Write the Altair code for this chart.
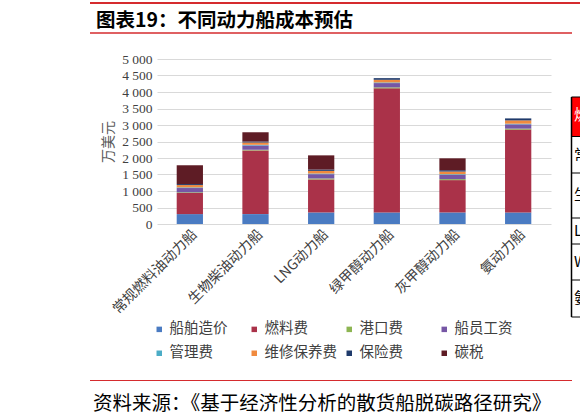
import altair as alt
import pandas as pd

# ---------------- data ----------------
ships = ["常规燃料油动力船", "生物柴油动力船", "LNG动力船", "绿甲醇动力船", "灰甲醇动力船", "氨动力船"]
components = ["船舶造价", "燃料费", "港口费", "船员工资", "管理费", "维修保养费", "保险费", "碳税"]
colors = ["#4A7BC2", "#AA3249", "#8DB552", "#7656A5", "#4BACC6", "#F08A3E", "#1F3A6B", "#5E1C25"]

ship_cost = [300, 300, 350, 350, 350, 350]
fuel_cost = [640, 1930, 1000, 3760, 980, 2510]
port_fee = [20, 20, 30, 30, 30, 30]
crew_wage = [130, 130, 130, 130, 130, 130]
mgmt_fee = [20, 20, 20, 20, 20, 20]
maint_fee = [70, 70, 80, 80, 80, 100]
insurance = [30, 30, 40, 50, 40, 60]
carbon_tax = [570, 280, 430, 0, 360, 0]

y_ticks = [0, 500, 1000, 1500, 2000, 2500, 3000, 3500, 4000, 4500, 5000]

title_text = "图表19：不同动力船成本预估"
source_text = "资料来源：《基于经济性分析的散货船脱碳路径研究》"

series = [ship_cost, fuel_cost, port_fee, crew_wage, mgmt_fee, maint_fee, insurance, carbon_tax]
rows = []
for ci, (comp, vals) in enumerate(zip(components, series)):
    for ship, v in zip(ships, vals):
        rows.append({"ship": ship, "component": comp, "value": v, "idx": ci})
df = pd.DataFrame(rows)

CJK = "Noto Sans CJK SC"
OX, OY = 157, 59  # plot origin on the page

bars = alt.Chart(df).mark_bar().encode(
    x=alt.X("ship:N", sort=ships,
            scale=alt.Scale(paddingInner=0.6, paddingOuter=0.3),
            axis=alt.Axis(title=None, labelAngle=-45, labelAlign="right", labelBaseline="top",
                          labelPadding=3, labelFont=CJK, labelFontSize=14, labelColor="#404040",
                          domain=False, ticks=False, labelLimit=200)),
    y=alt.Y("sum(value):Q", stack="zero",
            scale=alt.Scale(domain=[0, 5000], nice=False),
            axis=alt.Axis(values=y_ticks, labelExpr="replace(format(datum.value, ','), ',', ' ')",
                          grid=True, gridColor="#D9D9D9", gridWidth=1, domain=False, ticks=False,
                          labelFont="Liberation Serif", labelFontSize=13.5, labelColor="#404040",
                          labelPadding=5, title="万美元", titleFont=CJK, titleFontSize=14,
                          titleFontWeight="normal", titleColor="#595959", titlePadding=6)),
    color=alt.Color("component:N", sort=components,
                    scale=alt.Scale(domain=components, range=colors),
                    legend=alt.Legend(orient="none", legendX=-5, legendY=263, direction="horizontal",
                                      columns=4, title=None, symbolType="square", symbolSize=30,
                                      symbolStrokeWidth=0, labelFont=CJK, labelFontSize=14.5,
                                      labelColor="#404040", columnPadding=5, rowPadding=9,
                                      gridAlign="all", labelOffset=3)),
    order=alt.Order("idx:Q", sort="ascending"),
)

deco = pd.DataFrame({"k": [0]})
RED = "#D52B2E"


def hline(x1, x2, y, color, w):
    return alt.Chart(deco).mark_rule(color=color, strokeWidth=w).encode(
        x=alt.value(x1 - OX), x2=alt.value(x2 - OX), y=alt.value(y - OY))


def vline(x, y1, y2, color, w):
    return alt.Chart(deco).mark_rule(color=color, strokeWidth=w).encode(
        x=alt.value(x - OX), y=alt.value(y1 - OY), y2=alt.value(y2 - OY))


def text(x, y, s, size, color="#000000", weight="normal", font=CJK):
    return alt.Chart(deco).mark_text(align="left", baseline="middle", fontSize=size,
                                     font=font, fontWeight=weight, color=color).encode(
        x=alt.value(x - OX), y=alt.value(y - OY), text=alt.value(s))


layers = [bars,
          hline(90, 580, 3, RED, 2),
          hline(90, 572, 33, RED, 1.5),
          text(96, 20.5, title_text, 19.5, weight="bold"),
          hline(90, 572, 380.5, RED, 1),
          text(93, 404, source_text, 19.5),
          alt.Chart(deco).mark_rect(color="#FF0000").encode(
              x=alt.value(572 - OX), x2=alt.value(585 - OX),
              y=alt.value(97 - OY), y2=alt.value(136 - OY)),
          vline(571.5, 97, 317, "#000000", 1.5),
          ]
for yy in [97, 136.5, 173, 218, 244, 280, 317]:
    layers.append(hline(571.5, 585, yy, "#000000", 1))
for s, yy, c in [("燃", 115, "#FFFFFF"), ("常", 155, "#000000"), ("生", 195, "#000000"),
                 ("L", 231, "#000000"), ("W", 262, "#000000"), ("氨", 298, "#000000")]:
    layers.append(text(574, yy, s, 15, color=c))

chart = alt.layer(*layers).properties(
    width=394, height=165,
    autosize=alt.AutoSizeParams(type="none"),
    padding={"left": OX, "top": OY, "right": 580 - OX - 394, "bottom": 420 - OY - 165},
).configure_view(stroke=None)

chart.save("out.html", embed_options={"renderer": "svg", "actions": False})
